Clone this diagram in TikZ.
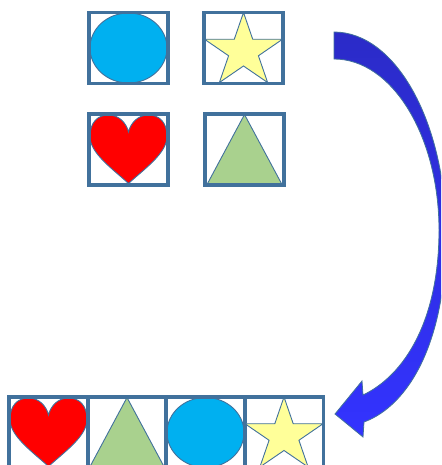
\documentclass[tikz,border=0pt]{standalone}
\definecolor{boxblue}{RGB}{65,113,156}
\definecolor{ovalblue}{RGB}{0,176,240}
\definecolor{starfill}{RGB}{255,255,153}
\definecolor{trigreen}{RGB}{169,209,142}
\definecolor{arrowtop}{RGB}{43,43,200}
\definecolor{arrowbot}{RGB}{51,51,255}
\tikzset{
  cell/.style={draw=boxblue, line width=3.2pt, minimum width=79pt, minimum height=71pt, inner sep=0pt},
  outline/.style={draw=boxblue, line width=0.9pt},
  oval/.pic={\filldraw[fill=ovalblue, outline] (0,0) ellipse [x radius=38.5pt, y radius=35pt];},
  star/.pic={\filldraw[fill=starfill, outline, shift={(0,3.2)}, xscale=1.06] (-90:38.7)
      \foreach \a in {1,...,9} {-- ({-90+36*\a}:{ifthenelse(isodd(\a),14.8,38.7)})} -- cycle;},
  tri/.pic={\filldraw[fill=trigreen, outline] (0,-35) -- (37.5,35) -- (-37.5,35) -- cycle;},
  heart/.pic={\filldraw[fill=red, outline] (0,34) .. controls (-15,20) and (-38.5,4) .. (-38.5,-13)
      .. controls (-38.5,-27) and (-31,-34.5) .. (-20,-34.5) .. controls (-9,-34.5) and (-2,-26) .. (0,-17.5)
      .. controls (2,-26) and (9,-34.5) .. (20,-34.5) .. controls (31,-34.5) and (38.5,-27) .. (38.5,-13)
      .. controls (38.5,4) and (15,20) .. (0,34) -- cycle;}
}
\begin{document}
\begin{tikzpicture}[x=1pt, y=-1pt]
  \clip (0,0) rectangle (441,465);
  % Top: the four shapes in a 2x2 grid
  \pic at (128.5,48) {oval};
  \pic at (243.5,48) {star};
  \pic at (128.5,149.5) {heart};
  \pic at (244.5,149.5) {tri};
  \node[cell] (ovalbox) at (128.5,48) {};
  \node[cell] (starbox) at (243.5,48) {};
  \node[cell] (heartbox) at (128.5,149.5) {};
  \node[cell] (tribox) at (244.5,149.5) {};
  % Right: curved block arrow
  \shadedraw[top color=arrowtop, bottom color=arrowbot, draw=boxblue, line width=0.8pt]
    (334,32) .. controls (396,32) and (446,123) .. (446,235)
    .. controls (446,340) and (410,405) .. (364,422) -- (363,437) -- (335,414) -- (362,381) -- (363,395)
    .. controls (405,375) and (439,320) .. (439,230)
    .. controls (439,136) and (392,59) .. (334,59) -- cycle;
  % Bottom: the shapes in one row
  \foreach \nm/\sh/\px in {heartcell/heart/48.5, tricell/tri/127, ovalcell/oval/205.5, starcell/star/284} {
    \pic at (\px,432.5) {\sh};
    \node[cell] (\nm) at (\px,432.5) {};
  }
\end{tikzpicture}
\end{document}
